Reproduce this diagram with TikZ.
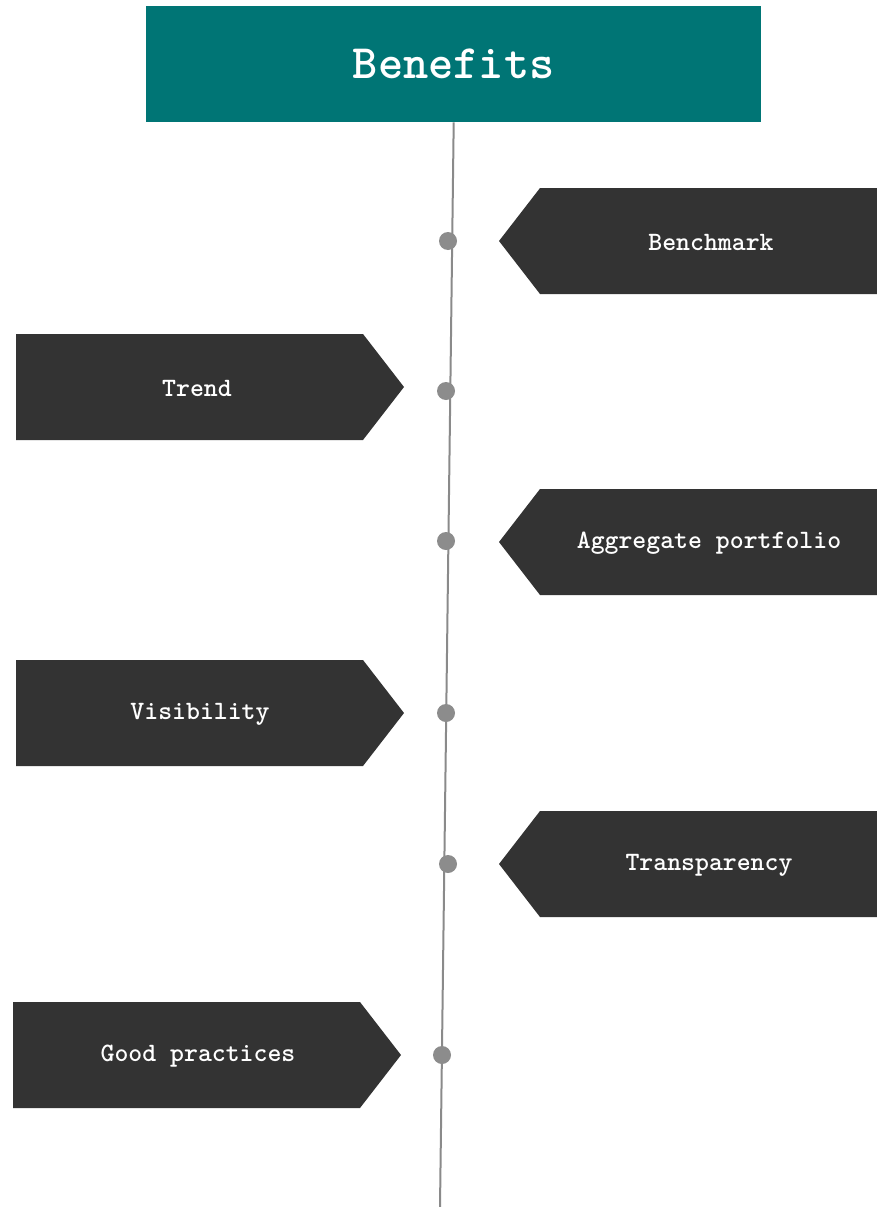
\documentclass[tikz,border=0pt]{standalone}
\usepackage{fontspec}
\definecolor{teal1}{HTML}{007575}
\definecolor{boxdark}{HTML}{333333}
\definecolor{linegray}{HTML}{8A8A8A}
\definecolor{dotgray}{HTML}{8C8C8C}
\begin{document}
\begin{tikzpicture}[x=1pt,y=-1pt,
  lbl/.style={text=white,font=\ttfamily\bfseries\fontsize{26.5}{29}\selectfont,inner sep=0pt},
  dot/.style={circle,fill=dotgray,inner sep=0pt,minimum size=18pt},
  tag/.style={fill=boxdark},
  spine/.style={draw=linegray,line width=2pt}]
\useasboundingbox (0,0) rectangle (877,1207);
% title
\node[fill=teal1,minimum width=615pt,minimum height=116pt,inner sep=0pt,anchor=north west,
  text=white,font=\ttfamily\bfseries\fontsize{48}{54}\selectfont] (title) at (146,6) {Benefits};
% spine
\coordinate (end) at (440,1207);
\draw[spine] (title.south) -- (end);
% right tags (pointing left)
\fill[tag] (540,188) -- (877,188) -- (877,294) -- (540,294) -- (499,241) -- cycle;
\fill[tag] (540,489) -- (877,489) -- (877,595) -- (540,595) -- (499,542) -- cycle;
\fill[tag] (540,811) -- (877,811) -- (877,917) -- (540,917) -- (499,864) -- cycle;
% left tags (pointing right)
\fill[tag] (16,334) -- (363,334) -- (404,387) -- (363,440) -- (16,440) -- cycle;
\fill[tag] (16,660) -- (363,660) -- (404,713) -- (363,766) -- (16,766) -- cycle;
\fill[tag] (13,1002) -- (360,1002) -- (401,1055) -- (360,1108) -- (13,1108) -- cycle;
% labels
\node[lbl] (benchmark) at (711,242) {Benchmark};
\node[lbl] (trend) at (197,388) {Trend};
\node[lbl] (aggregate) at (709,543) {Aggregate portfolio};
\node[lbl] (visibility) at (200,714) {Visibility};
\node[lbl] (transparency) at (709,865) {Transparency};
\node[lbl] (goodpractices) at (198,1056) {Good practices};
% dots
\node[dot] (d1) at (448,241) {};
\node[dot] (d2) at (446,391) {};
\node[dot] (d3) at (446,541) {};
\node[dot] (d4) at (446,713) {};
\node[dot] (d5) at (448,864) {};
\node[dot] (d6) at (442,1055) {};
\end{tikzpicture}
\end{document}
